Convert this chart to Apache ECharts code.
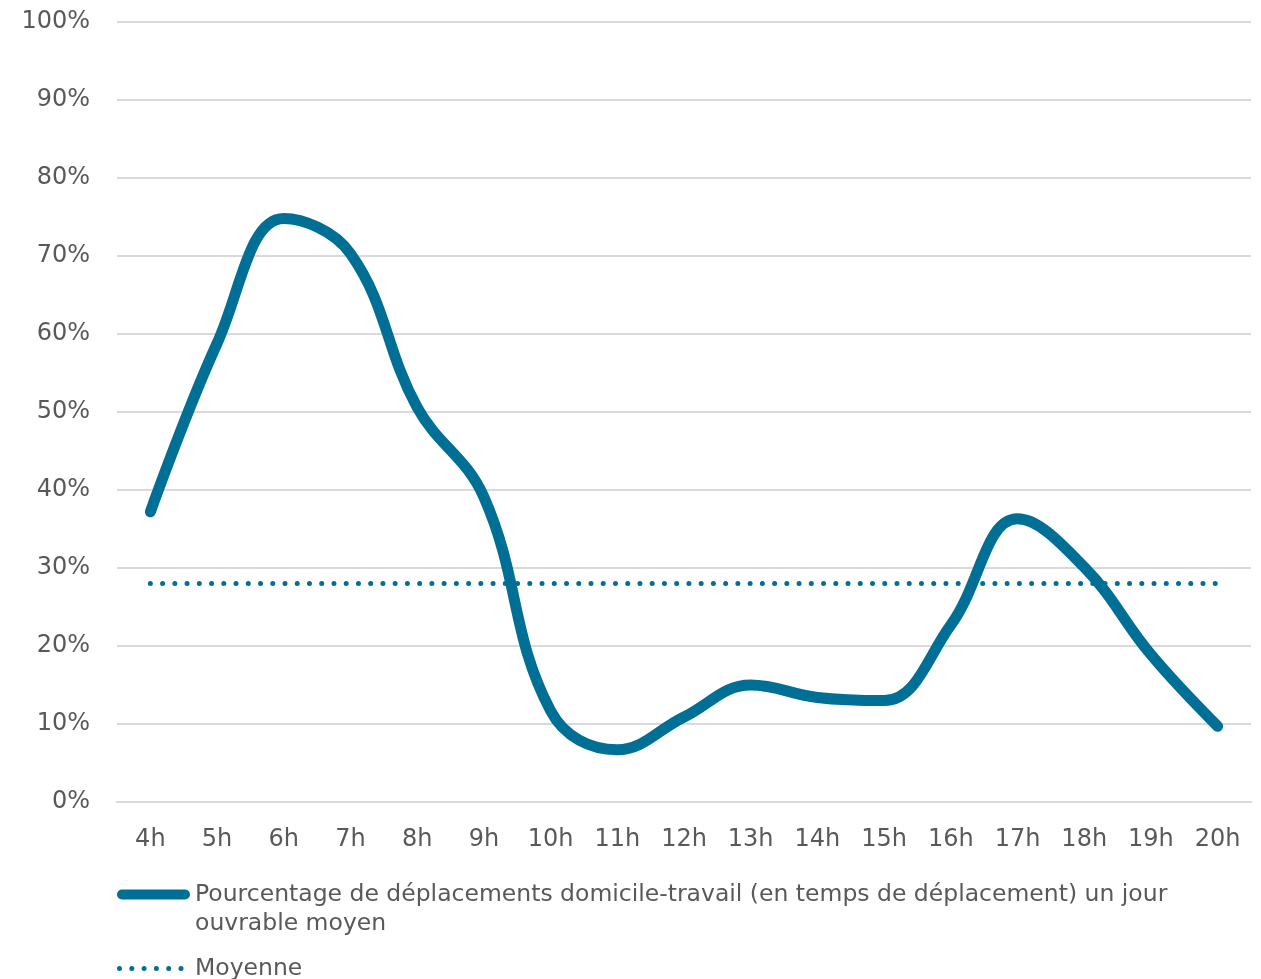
<!DOCTYPE html>
<html>
<head>
<meta charset="utf-8">
<script src="https://cdn.jsdelivr.net/npm/echarts@6/dist/echarts.min.js"></script>
<style>
  html, body { margin: 0; padding: 0; background: #ffffff; }
  #chart { width: 1261px; height: 979px; }
</style>
</head>
<body>
<div id="chart"></div>
<script>
const categories = ['4h','5h','6h','7h','8h','9h','10h','11h','12h','13h','14h','15h','16h','17h','18h','19h','20h'];
const commuteShare = [37.2, 58.8, 74.8, 70.3, 50.6, 39.1, 11.7, 6.7, 10.9, 15.0, 13.4, 13.0, 22.7, 36.3, 30.1, 18.9, 9.7];
const averageValue = 28.0;
const averageLine = categories.map(() => averageValue);
const seriesNames = ['Pourcentage de déplacements domicile-travail (en temps de déplacement) un jour ouvrable moyen', 'Moyenne'];
const legendLines = ['Pourcentage de déplacements domicile-travail (en temps de déplacement) un jour', 'ouvrable moyen'];

const FONT = 'DejaVu Sans';
const TEXT = '#595959';
const BLUE = '#006f96';

function dotsPath(n, gap, r, totalWidth) {
  let p = 'path://';
  for (let i = 0; i < n; i++) {
    const cx = r + i * gap;
    p += 'M' + (cx - r) + ',' + r + ' a' + r + ',' + r + ' 0 1,0 ' + (2 * r) + ',0 a' + r + ',' + r + ' 0 1,0 ' + (-2 * r) + ',0 ';
  }
  p += 'M' + totalWidth + ',' + r + ' L' + totalWidth + ',' + r;
  return p;
}

const chart = echarts.init(document.getElementById('chart'), null, { renderer: 'canvas' });
chart.setOption({
  animation: false,
  grid: { left: 117, right: 10, top: 22, bottom: 177, containLabel: false },
  xAxis: {
    type: 'category',
    data: categories,
    boundaryGap: true,
    axisLine: { show: true, lineStyle: { color: '#d9d9d9', width: 2 } },
    axisTick: { show: false },
    axisLabel: { color: TEXT, fontFamily: FONT, fontSize: 24, margin: 26 }
  },
  yAxis: {
    type: 'value',
    min: 0, max: 100, interval: 10,
    axisLine: { show: false },
    axisTick: { show: false },
    splitLine: { lineStyle: { color: '#d9d9d9', width: 2 } },
    axisLabel: { color: TEXT, fontFamily: FONT, fontSize: 24, margin: 27, formatter: v => v + '%' }
  },
  legend: [
    {
      orient: 'vertical',
      left: 112, top: 846,
      itemWidth: 73, itemHeight: 10, itemGap: 8,
      data: [{ name: seriesNames[0], icon: 'path://M5,0 H68 A5,5 0 0 1 68,10 H5 A5,5 0 0 1 5,0 Z', itemStyle: { color: BLUE } }],
      formatter: () => '\n' + legendLines.join('\n'),
      textStyle: { color: TEXT, fontFamily: FONT, fontSize: 23.5, lineHeight: 29 },
      selectedMode: false
    },
    {
      orient: 'vertical',
      left: 112, top: 949,
      itemWidth: 73, itemHeight: 5, itemGap: 8,
      data: [{ name: seriesNames[1], icon: dotsPath(6, 12.3, 2.5, 73), itemStyle: { color: BLUE } }],
      textStyle: { color: TEXT, fontFamily: FONT, fontSize: 23.5, lineHeight: 29 },
      selectedMode: false
    }
  ],
  series: [
    {
      name: seriesNames[0],
      type: 'line',
      data: commuteShare,
      smooth: 0.4,
      symbol: 'none',
      lineStyle: { color: BLUE, width: 11, cap: 'round', join: 'round' },
      itemStyle: { color: BLUE },
      z: 3
    },
    {
      name: seriesNames[1],
      type: 'line',
      data: averageLine,
      symbol: 'none',
      lineStyle: { color: BLUE, width: 5, type: [0.01, 12.23], cap: 'round' },
      itemStyle: { color: BLUE },
      z: 2
    }
  ]
});
</script>
</body>
</html>
